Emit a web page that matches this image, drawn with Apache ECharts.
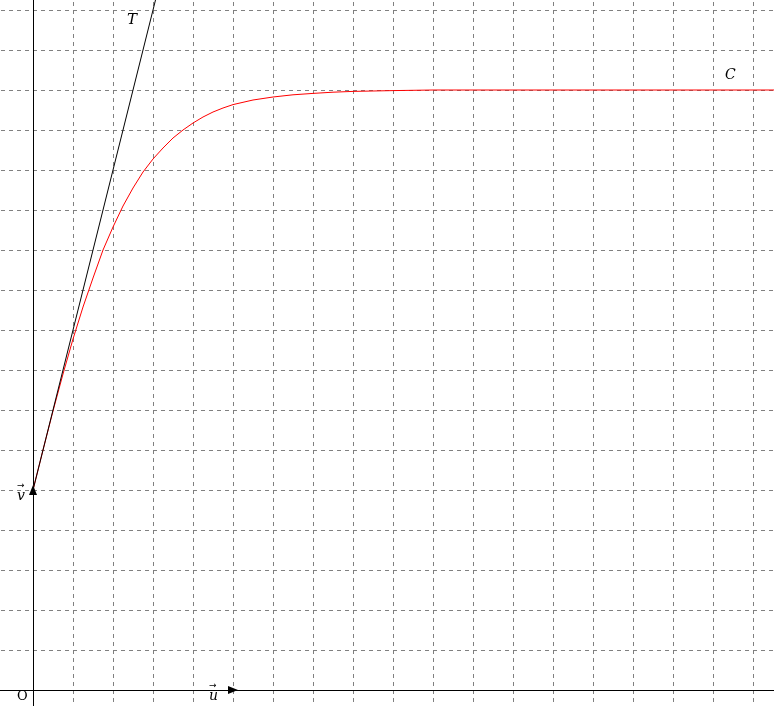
<!DOCTYPE html>
<html>
<head>
<meta charset="utf-8">
<script src="https://cdn.jsdelivr.net/npm/echarts@6/dist/echarts.min.js"></script>
<style>html,body{margin:0;padding:0;background:#fff;}#c{width:774px;height:706px;}</style>
</head>
<body>
<div id="c"></div>
<script>
// Curve C
const curveX = [0, 0.05, 0.1, 0.15, 0.2, 0.25, 0.3, 0.35, 0.4, 0.45, 0.5, 0.55, 0.6, 0.65, 0.7, 0.75, 0.8, 0.85, 0.9, 0.95, 1.0, 1.1, 1.2, 1.3, 1.4, 1.5, 1.6, 1.8, 2.0, 3.8];
const curveY = [1.0, 1.2, 1.395, 1.58, 1.755, 1.915, 2.06, 2.2, 2.315, 2.42, 2.51, 2.59, 2.655, 2.71, 2.76, 2.8, 2.835, 2.865, 2.89, 2.91, 2.927, 2.95, 2.965, 2.976, 2.983, 2.989, 2.993, 2.997, 3.0, 3.0];
// Tangent T at (0,1)
const tangentX = [0, 0.64];
const tangentY = [1, 3.56];
// Unit vectors
const uVec = [[0, 0], [1, 0]];
const vVec = [[0, 0], [0, 1]];

const chart = echarts.init(document.getElementById('c'), null, {renderer: 'canvas'});
const grid = '#808080';
const fontFam = '"DejaVu Serif", "Liberation Serif", serif';
chart.setOption({
  animation: false,
  backgroundColor: '#fff',
  grid: {left: -7, top: -30, width: 800, height: 760, outerBoundsMode: 'none', containLabel: false},
  xAxis: {
    type: 'value', min: -0.2, max: 3.8, interval: 0.2,
    axisLine: {onZero: true, lineStyle: {color: '#000', width: 1}},
    axisTick: {show: false}, axisLabel: {show: false},
    splitLine: {show: true, lineStyle: {color: grid, type: [4, 4], width: 1}}
  },
  yAxis: {
    type: 'value', min: -0.2, max: 3.6, interval: 0.2,
    axisLine: {onZero: true, lineStyle: {color: '#000', width: 1}},
    axisTick: {show: false}, axisLabel: {show: false},
    splitLine: {show: true, lineStyle: {color: grid, type: [4, 4], width: 1}}
  },
  series: [
    {
      type: 'line', data: curveX.map((x, i) => [x, curveY[i]]),
      showSymbol: false, smooth: false, lineStyle: {color: '#ff0000', width: 1}, z: 3
    },
    {
      type: 'line', data: tangentX.map((x, i) => [x, tangentY[i]]),
      showSymbol: false, lineStyle: {color: '#000', width: 1}, z: 4
    },
    {
      type: 'line', data: [], silent: true,
      markLine: {
        silent: true, symbol: ['none', 'triangle'], symbolSize: [8, 10],
        lineStyle: {color: '#000', width: 1, type: 'solid'}, label: {show: false},
        data: [
          [{coord: uVec[0]}, {coord: uVec[1]}],
          [{coord: vVec[0]}, {coord: vVec[1]}]
        ]
      }
    }
  ],
  graphic: [
    {type: 'text', left: 17, top: 690, style: {text: 'O', font: '13px ' + fontFam, fill: '#000'}},
    {type: 'text', left: 209, top: 689, style: {text: 'u', font: 'italic 14px ' + fontFam, fill: '#000'}},
    {type: 'text', left: 209, top: 681, style: {text: '\u2192', font: '9px "DejaVu Sans"', fill: '#000'}},
    {type: 'text', left: 17, top: 489, style: {text: 'v', font: 'italic 14px ' + fontFam, fill: '#000'}},
    {type: 'text', left: 17, top: 481, style: {text: '\u2192', font: '9px "DejaVu Sans"', fill: '#000'}},
    {type: 'text', left: 127, top: 13, style: {text: 'T', font: 'italic 15px ' + fontFam, fill: '#000'}},
    {type: 'text', left: 725, top: 68, style: {text: 'C', font: 'italic 14px ' + fontFam, fill: '#000'}}
  ]
});
</script>
</body>
</html>
